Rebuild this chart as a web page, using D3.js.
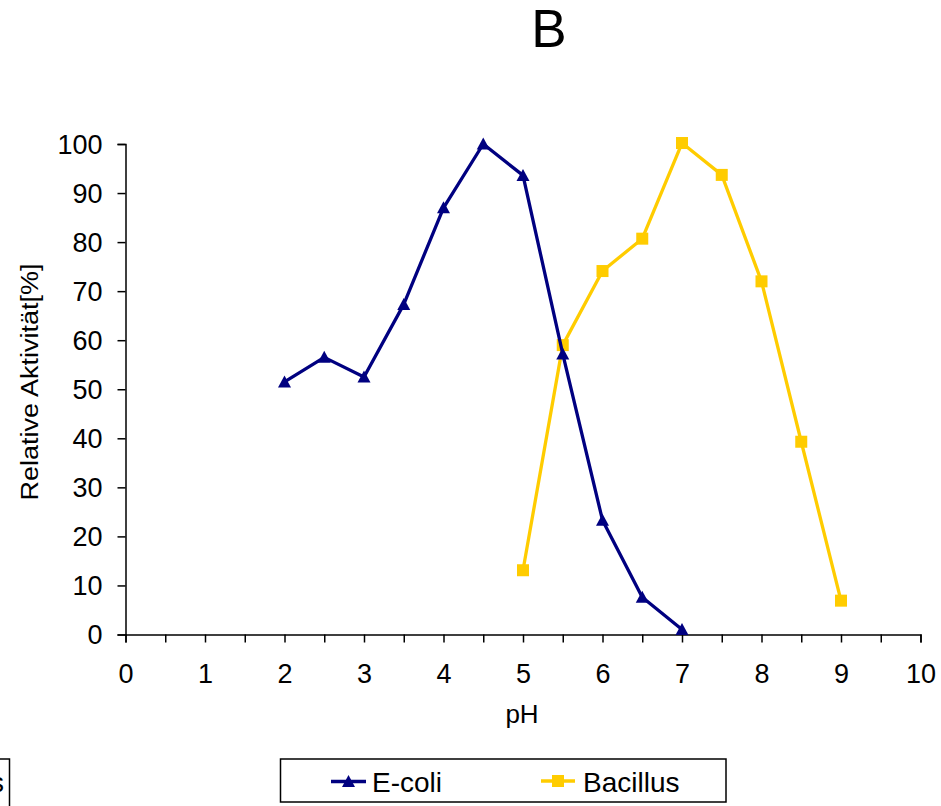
<!DOCTYPE html>
<html>
<head>
<meta charset="utf-8">
<script src="https://cdn.jsdelivr.net/npm/d3@7"></script>
<style>
  html, body { margin: 0; padding: 0; background: #fff; }
  svg { display: block; font-family: Arial, "Liberation Sans", sans-serif; }
</style>
</head>
<body>
<svg id="chart" width="941" height="806"></svg>
<script>
// ---- data ----
const titleText = "B";
const xLabel = "pH";
const yLabel = "Relative Aktivität[%]";
const seriesNames = ["E-coli", "Bacillus"];
const ecoliPH = [2, 2.5, 3, 3.5, 4, 4.5, 5, 5.5, 6, 6.5, 7];
const ecoliValues = [51.5, 56.5, 52.5, 67.3, 87, 100, 93.6, 57.2, 23.3, 7.6, 1];
const bacillusPH = [5, 5.5, 6, 6.5, 7, 7.5, 8, 8.5, 9];
const bacillusValues = [13.1, 59, 74.1, 80.7, 100.2, 93.7, 72, 39.3, 6.9];
const xTickValues = [0, 1, 2, 3, 4, 5, 6, 7, 8, 9, 10];
const xMinorTicks = [0, 0.5, 1, 1.5, 2, 2.5, 3, 3.5, 4, 4.5, 5, 5.5, 6, 6.5, 7, 7.5, 8, 8.5, 9, 9.5, 10];
const yTickValues = [0, 10, 20, 30, 40, 50, 60, 70, 80, 90, 100];
const colors = ["#000080", "#FFCC00"];

const svg = d3.select("#chart");
const x = d3.scaleLinear().domain([0, 10]).range([125.5, 920.5]);
const y = d3.scaleLinear().domain([0, 100]).range([634.5, 144]);

// title
svg.append("text").attr("x", 549).attr("y", 47).attr("text-anchor", "middle")
  .attr("font-size", 53).attr("fill", "#000").text(titleText);

// y axis
const yAxis = svg.append("g").attr("transform", `translate(${x(0)},0)`)
  .call(d3.axisLeft(y).tickValues(yTickValues).tickSize(8).tickPadding(15));
yAxis.select(".domain").attr("stroke", "#000").attr("stroke-width", 1.5);
yAxis.selectAll(".tick line").attr("stroke", "#000").attr("stroke-width", 1.5);
yAxis.selectAll(".tick text").attr("font-size", 27).attr("fill", "#000")
  .attr("font-family", "Arial, 'Liberation Sans', sans-serif").attr("dy", "0.35em");

// x axis
const xAxis = svg.append("g").attr("transform", `translate(0,${y(0)})`)
  .call(d3.axisBottom(x).tickValues(xMinorTicks).tickSize(8)
    .tickFormat(d => xTickValues.includes(d) ? d3.format("d")(d) : ""));
xAxis.select(".domain").attr("stroke", "#000").attr("stroke-width", 1.5);
xAxis.selectAll(".tick line").attr("stroke", "#000").attr("stroke-width", 1.5);
xAxis.selectAll(".tick text").attr("font-size", 27).attr("fill", "#000")
  .attr("font-family", "Arial, 'Liberation Sans', sans-serif")
  .attr("y", 48.5).attr("dy", 0);

// axis titles
svg.append("text").attr("x", 522).attr("y", 723).attr("text-anchor", "middle")
  .attr("font-size", 26).attr("fill", "#000").text(xLabel);
svg.append("text").attr("transform", "translate(38,382) rotate(-90)")
  .attr("text-anchor", "middle").attr("font-size", 23)
  .attr("textLength", 237).attr("lengthAdjust", "spacingAndGlyphs")
  .attr("fill", "#000").text(yLabel);

// lines
const line = d3.line().x(d => x(d[0])).y(d => y(d[1]));
const ecoli = ecoliPH.map((p, i) => [p, ecoliValues[i]]);
const bac = bacillusPH.map((p, i) => [p, bacillusValues[i]]);

svg.append("path").datum(bac).attr("d", line).attr("fill", "none")
  .attr("stroke", colors[1]).attr("stroke-width", 3.3).attr("stroke-linejoin", "round");
svg.append("g").selectAll("rect").data(bac).join("rect")
  .attr("x", d => x(d[0]) - 6).attr("y", d => y(d[1]) - 6)
  .attr("width", 12).attr("height", 12).attr("fill", colors[1]);

svg.append("path").datum(ecoli).attr("d", line).attr("fill", "none")
  .attr("stroke", colors[0]).attr("stroke-width", 3.3).attr("stroke-linejoin", "round");
const tri = (cx, cy) => `M${cx},${cy - 6.5} L${cx + 6.5},${cy + 5.5} L${cx - 6.5},${cy + 5.5} Z`;
svg.append("g").selectAll("path").data(ecoli).join("path")
  .attr("d", d => tri(x(d[0]), y(d[1]))).attr("fill", colors[0]);

// legend
const lg = svg.append("g");
lg.append("rect").attr("x", 280.5).attr("y", 759).attr("width", 445.5).attr("height", 43)
  .attr("fill", "#fff").attr("stroke", "#000").attr("stroke-width", 1.5);
lg.append("line").attr("x1", 331).attr("x2", 366).attr("y1", 781.5).attr("y2", 781.5)
  .attr("stroke", colors[0]).attr("stroke-width", 3.3);
lg.append("path").attr("d", tri(348.5, 781.5)).attr("fill", colors[0]);
lg.append("text").attr("x", 372).attr("y", 792).attr("font-size", 28).attr("fill", "#000").text(seriesNames[0]);
lg.append("line").attr("x1", 541).attr("x2", 575).attr("y1", 781).attr("y2", 781)
  .attr("stroke", colors[1]).attr("stroke-width", 3.3);
lg.append("rect").attr("x", 552).attr("y", 775).attr("width", 12).attr("height", 12).attr("fill", colors[1]);
lg.append("text").attr("x", 583).attr("y", 792).attr("font-size", 28).attr("fill", "#000").text(seriesNames[1]);

// clipped legend fragment at the left edge (as in the reference)
const frag = svg.append("g");
frag.append("rect").attr("x", -200).attr("y", 759).attr("width", 209.5).attr("height", 80)
  .attr("fill", "#fff").attr("stroke", "#000").attr("stroke-width", 1.5);
frag.append("text").attr("x", 4).attr("y", 792).attr("text-anchor", "end")
  .attr("font-size", 28).attr("fill", "#000").text(seriesNames[1]);
</script>
</body>
</html>
